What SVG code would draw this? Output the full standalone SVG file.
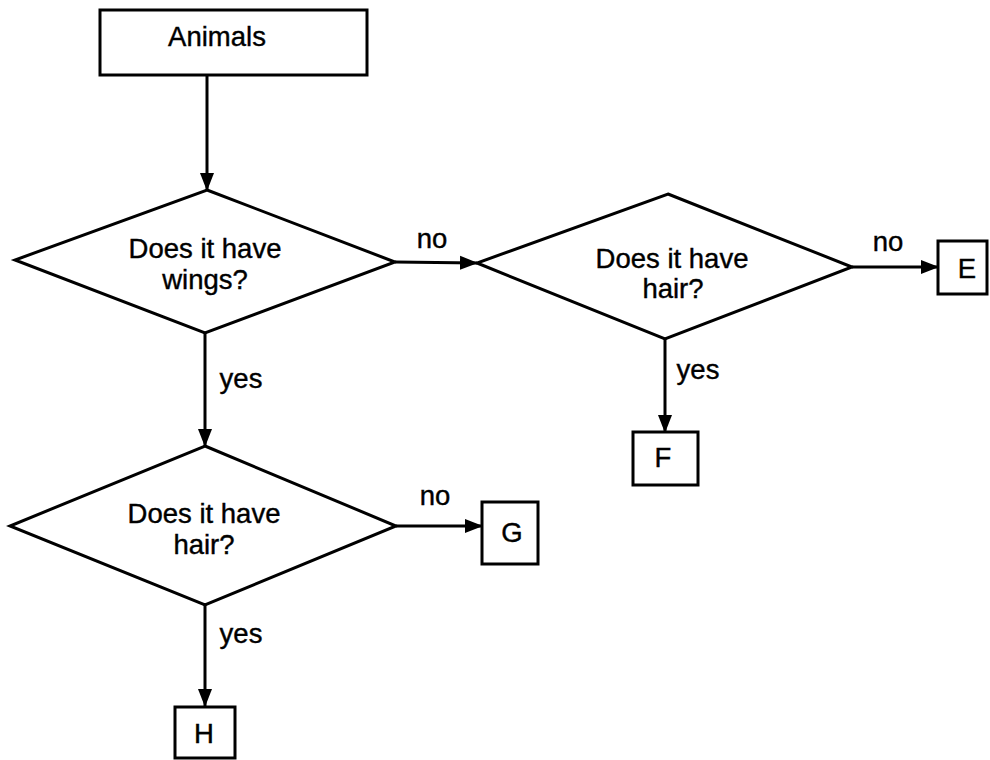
<svg xmlns="http://www.w3.org/2000/svg" width="990" height="760" viewBox="0 0 990 760">
<defs>
<marker id="ah" markerUnits="userSpaceOnUse" markerWidth="18" markerHeight="16" refX="17" refY="8" orient="auto">
<path d="M0,1 L18,8 L0,15 Z" fill="#000"/>
</marker>
<style>
.shape{fill:#fff;stroke:#000;stroke-width:3;stroke-linejoin:miter}
.t{font-family:"Liberation Sans",Arial,sans-serif;font-size:27.5px;fill:#000;stroke:#000;stroke-width:0.4;text-anchor:middle}
.lbl{font-family:"Liberation Sans",Arial,sans-serif;font-size:27.5px;fill:#000;stroke:#000;stroke-width:0.4;text-anchor:middle}
.c{fill:none;stroke:#000;stroke-width:3}
</style>
</defs>
<rect width="990" height="760" fill="#fff"/>
<g id="connectors">
<line class="c" x1="207" y1="75" x2="207" y2="190" marker-end="url(#ah)"/>
<line class="c" x1="395" y1="262" x2="477" y2="263" marker-end="url(#ah)"/>
<line class="c" x1="852" y1="267" x2="938" y2="267" marker-end="url(#ah)"/>
<line class="c" x1="665" y1="339" x2="665" y2="432" marker-end="url(#ah)"/>
<line class="c" x1="205" y1="333" x2="205" y2="446" marker-end="url(#ah)"/>
<line class="c" x1="396" y1="526" x2="482" y2="526" marker-end="url(#ah)"/>
<line class="c" x1="205" y1="605" x2="205" y2="706" marker-end="url(#ah)"/>
<text class="lbl" x="432" y="248">no</text>
<text class="lbl" x="888" y="251">no</text>
<text class="lbl" x="435" y="505">no</text>
<text class="lbl" x="241" y="388">yes</text>
<text class="lbl" x="698" y="379">yes</text>
<text class="lbl" x="241" y="643">yes</text>
</g>
<g id="animals">
<rect class="shape" x="100" y="10" width="267" height="65"/>
<text class="t" x="217" y="46">Animals</text>
</g>
<g id="wings">
<polygon class="shape" points="207,190 395,262 205,333 15,260"/>
<text class="t" x="205" y="258">Does it have</text>
<text class="t" x="205" y="289">wings?</text>
</g>
<g id="hair1">
<polygon class="shape" points="668,194 852,267 665,339 477,263"/>
<text class="t" x="672" y="268">Does it have</text>
<text class="t" x="673" y="298">hair?</text>
</g>
<g id="hair2">
<polygon class="shape" points="205,446 396,526 205,605 10,526"/>
<text class="t" x="204" y="523">Does it have</text>
<text class="t" x="204" y="554">hair?</text>
</g>
<g id="E">
<rect class="shape" x="938" y="241" width="49" height="53"/>
<text class="t" x="967" y="278">E</text>
</g>
<g id="F">
<rect class="shape" x="633" y="432" width="65" height="53"/>
<text class="t" x="663" y="467">F</text>
</g>
<g id="G">
<rect class="shape" x="482" y="502" width="56" height="62"/>
<text class="t" x="512" y="542">G</text>
</g>
<g id="H">
<rect class="shape" x="175" y="707" width="60" height="51"/>
<text class="t" x="204" y="743">H</text>
</g>
</svg>
